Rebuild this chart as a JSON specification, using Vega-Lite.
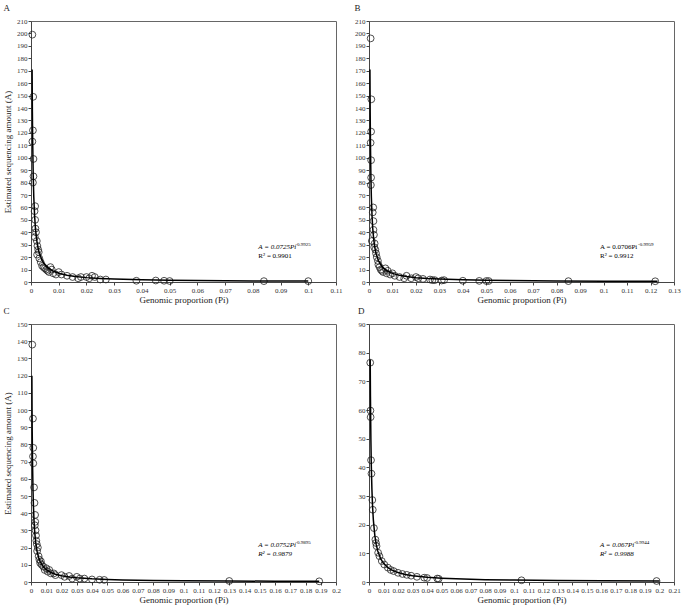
{
  "$schema": "https://vega.github.io/schema/vega-lite/v6.json",
  "background": "white",
  "padding": {"left": 3, "top": 3, "right": 6, "bottom": 6},
  "columns": 2,
  "spacing": {"row": 42, "column": 33},
  "bounds": "flush",
  "datasets": {
    "ptsA": [
      {"Pi": 0.0005, "A": 199}, {"Pi": 0.0008, "A": 149}, {"Pi": 0.0007, "A": 122}, {"Pi": 0.0005, "A": 113},
      {"Pi": 0.0009, "A": 99}, {"Pi": 0.0009, "A": 85}, {"Pi": 0.0007, "A": 80}, {"Pi": 0.0015, "A": 61},
      {"Pi": 0.0013, "A": 57}, {"Pi": 0.0015, "A": 50}, {"Pi": 0.0016, "A": 43}, {"Pi": 0.0018, "A": 40},
      {"Pi": 0.0014, "A": 36}, {"Pi": 0.0021, "A": 33}, {"Pi": 0.0023, "A": 29}, {"Pi": 0.0026, "A": 26},
      {"Pi": 0.0028, "A": 24}, {"Pi": 0.0022, "A": 22}, {"Pi": 0.003, "A": 19}, {"Pi": 0.0035, "A": 16},
      {"Pi": 0.004, "A": 13}, {"Pi": 0.0045, "A": 12}, {"Pi": 0.005, "A": 11}, {"Pi": 0.0055, "A": 10},
      {"Pi": 0.006, "A": 9}, {"Pi": 0.0065, "A": 8}, {"Pi": 0.007, "A": 12}, {"Pi": 0.0075, "A": 10},
      {"Pi": 0.008, "A": 7}, {"Pi": 0.009, "A": 6}, {"Pi": 0.01, "A": 8}, {"Pi": 0.011, "A": 6},
      {"Pi": 0.013, "A": 5}, {"Pi": 0.015, "A": 4}, {"Pi": 0.017, "A": 3}, {"Pi": 0.018, "A": 4},
      {"Pi": 0.02, "A": 4}, {"Pi": 0.021, "A": 3}, {"Pi": 0.022, "A": 5}, {"Pi": 0.023, "A": 4},
      {"Pi": 0.025, "A": 2}, {"Pi": 0.027, "A": 2}, {"Pi": 0.038, "A": 1}, {"Pi": 0.045, "A": 1.2},
      {"Pi": 0.048, "A": 1}, {"Pi": 0.05, "A": 0.8}, {"Pi": 0.084, "A": 0.7}, {"Pi": 0.1, "A": 0.7}
    ],
    "fitA": [
      {"Pi": 0.0004, "A": 170.9}, {"Pi": 0.0005, "A": 137.0}, {"Pi": 0.0006, "A": 114.3}, {"Pi": 0.0008, "A": 85.9},
      {"Pi": 0.001, "A": 68.8}, {"Pi": 0.0013, "A": 53.06}, {"Pi": 0.0016, "A": 43.18}, {"Pi": 0.002, "A": 34.6},
      {"Pi": 0.0025, "A": 27.73}, {"Pi": 0.003, "A": 23.14}, {"Pi": 0.004, "A": 17.39}, {"Pi": 0.005, "A": 13.94},
      {"Pi": 0.006, "A": 11.63}, {"Pi": 0.008, "A": 8.74}, {"Pi": 0.01, "A": 7.0}, {"Pi": 0.013, "A": 5.4},
      {"Pi": 0.016, "A": 4.39}, {"Pi": 0.02, "A": 3.52}, {"Pi": 0.025, "A": 2.82}, {"Pi": 0.03, "A": 2.35},
      {"Pi": 0.04, "A": 1.77}, {"Pi": 0.05, "A": 1.42}, {"Pi": 0.06, "A": 1.18}, {"Pi": 0.08, "A": 0.89},
      {"Pi": 0.1, "A": 0.71}
    ],
    "ptsB": [
      {"Pi": 0.0007, "A": 196}, {"Pi": 0.001, "A": 147}, {"Pi": 0.0009, "A": 121}, {"Pi": 0.0007, "A": 112},
      {"Pi": 0.0009, "A": 98}, {"Pi": 0.0009, "A": 84}, {"Pi": 0.0008, "A": 78}, {"Pi": 0.0018, "A": 60},
      {"Pi": 0.0016, "A": 56}, {"Pi": 0.0019, "A": 49}, {"Pi": 0.0019, "A": 42}, {"Pi": 0.0021, "A": 38},
      {"Pi": 0.0012, "A": 33}, {"Pi": 0.0024, "A": 31}, {"Pi": 0.0022, "A": 28}, {"Pi": 0.0027, "A": 26},
      {"Pi": 0.003, "A": 23}, {"Pi": 0.0033, "A": 20}, {"Pi": 0.0038, "A": 17}, {"Pi": 0.004, "A": 14},
      {"Pi": 0.0045, "A": 12}, {"Pi": 0.005, "A": 10}, {"Pi": 0.0055, "A": 9}, {"Pi": 0.006, "A": 8},
      {"Pi": 0.007, "A": 11}, {"Pi": 0.0075, "A": 7}, {"Pi": 0.008, "A": 9}, {"Pi": 0.009, "A": 6},
      {"Pi": 0.01, "A": 7}, {"Pi": 0.011, "A": 5}, {"Pi": 0.013, "A": 4}, {"Pi": 0.015, "A": 3},
      {"Pi": 0.016, "A": 5}, {"Pi": 0.018, "A": 3}, {"Pi": 0.02, "A": 4}, {"Pi": 0.021, "A": 3},
      {"Pi": 0.023, "A": 2.5}, {"Pi": 0.026, "A": 2}, {"Pi": 0.027, "A": 1.5}, {"Pi": 0.028, "A": 1.5},
      {"Pi": 0.031, "A": 1.2}, {"Pi": 0.032, "A": 1.5}, {"Pi": 0.04, "A": 1}, {"Pi": 0.047, "A": 0.9},
      {"Pi": 0.05, "A": 0.8}, {"Pi": 0.051, "A": 0.8}, {"Pi": 0.085, "A": 0.7}, {"Pi": 0.122, "A": 0.6}
    ],
    "fitB": [
      {"Pi": 0.0004, "A": 170.9}, {"Pi": 0.0005, "A": 136.9}, {"Pi": 0.0006, "A": 114.1}, {"Pi": 0.0008, "A": 85.7},
      {"Pi": 0.001, "A": 68.6}, {"Pi": 0.0013, "A": 52.85}, {"Pi": 0.0016, "A": 42.97}, {"Pi": 0.002, "A": 34.41},
      {"Pi": 0.0025, "A": 27.55}, {"Pi": 0.003, "A": 22.98}, {"Pi": 0.004, "A": 17.25}, {"Pi": 0.005, "A": 13.82},
      {"Pi": 0.006, "A": 11.52}, {"Pi": 0.008, "A": 8.65}, {"Pi": 0.01, "A": 6.93}, {"Pi": 0.013, "A": 5.34},
      {"Pi": 0.016, "A": 4.34}, {"Pi": 0.02, "A": 3.47}, {"Pi": 0.025, "A": 2.78}, {"Pi": 0.03, "A": 2.32},
      {"Pi": 0.04, "A": 1.74}, {"Pi": 0.05, "A": 1.39}, {"Pi": 0.06, "A": 1.16}, {"Pi": 0.08, "A": 0.87},
      {"Pi": 0.1, "A": 0.7}, {"Pi": 0.123, "A": 0.57}
    ],
    "ptsC": [
      {"Pi": 0.00085, "A": 138}, {"Pi": 0.0013, "A": 95}, {"Pi": 0.0015, "A": 78}, {"Pi": 0.0013, "A": 73},
      {"Pi": 0.0015, "A": 69}, {"Pi": 0.002, "A": 55}, {"Pi": 0.0023, "A": 46}, {"Pi": 0.0027, "A": 39},
      {"Pi": 0.0028, "A": 35}, {"Pi": 0.0025, "A": 33}, {"Pi": 0.003, "A": 30}, {"Pi": 0.0033, "A": 27},
      {"Pi": 0.0035, "A": 24}, {"Pi": 0.0038, "A": 22}, {"Pi": 0.004, "A": 18}, {"Pi": 0.0045, "A": 20},
      {"Pi": 0.005, "A": 15}, {"Pi": 0.0055, "A": 13}, {"Pi": 0.006, "A": 11}, {"Pi": 0.0065, "A": 12},
      {"Pi": 0.007, "A": 10}, {"Pi": 0.008, "A": 9}, {"Pi": 0.009, "A": 7}, {"Pi": 0.01, "A": 8},
      {"Pi": 0.011, "A": 6}, {"Pi": 0.012, "A": 7}, {"Pi": 0.013, "A": 5}, {"Pi": 0.015, "A": 5},
      {"Pi": 0.016, "A": 4}, {"Pi": 0.02, "A": 4}, {"Pi": 0.022, "A": 3}, {"Pi": 0.025, "A": 3.5},
      {"Pi": 0.027, "A": 2}, {"Pi": 0.03, "A": 3}, {"Pi": 0.032, "A": 2}, {"Pi": 0.035, "A": 2},
      {"Pi": 0.04, "A": 1.5}, {"Pi": 0.045, "A": 1.3}, {"Pi": 0.048, "A": 1.2}, {"Pi": 0.13, "A": 0.6},
      {"Pi": 0.189, "A": 0.4}
    ],
    "fitC": [
      {"Pi": 0.00058, "A": 119.9}, {"Pi": 0.0007, "A": 99.5}, {"Pi": 0.0008, "A": 87.2}, {"Pi": 0.001, "A": 69.9},
      {"Pi": 0.0013, "A": 53.9}, {"Pi": 0.0016, "A": 43.9}, {"Pi": 0.002, "A": 35.2}, {"Pi": 0.0025, "A": 28.25},
      {"Pi": 0.003, "A": 23.58}, {"Pi": 0.004, "A": 17.74}, {"Pi": 0.005, "A": 14.23}, {"Pi": 0.006, "A": 11.88},
      {"Pi": 0.008, "A": 8.94}, {"Pi": 0.01, "A": 7.17}, {"Pi": 0.013, "A": 5.53}, {"Pi": 0.016, "A": 4.5},
      {"Pi": 0.02, "A": 3.61}, {"Pi": 0.025, "A": 2.89}, {"Pi": 0.03, "A": 2.42}, {"Pi": 0.04, "A": 1.82},
      {"Pi": 0.05, "A": 1.46}, {"Pi": 0.06, "A": 1.22}, {"Pi": 0.08, "A": 0.915}, {"Pi": 0.1, "A": 0.734},
      {"Pi": 0.13, "A": 0.566}, {"Pi": 0.16, "A": 0.461}, {"Pi": 0.189, "A": 0.391}
    ],
    "ptsD": [
      {"Pi": 0.00084, "A": 76.5}, {"Pi": 0.001, "A": 59.8}, {"Pi": 0.00112, "A": 57.5}, {"Pi": 0.0014, "A": 42.5},
      {"Pi": 0.0017, "A": 37.8}, {"Pi": 0.0023, "A": 28.6}, {"Pi": 0.0026, "A": 25.2}, {"Pi": 0.0034, "A": 18.8},
      {"Pi": 0.0044, "A": 14.8}, {"Pi": 0.0048, "A": 13.6}, {"Pi": 0.0052, "A": 12.5}, {"Pi": 0.0063, "A": 10.2},
      {"Pi": 0.0072, "A": 9}, {"Pi": 0.0088, "A": 7.3}, {"Pi": 0.0105, "A": 6.1}, {"Pi": 0.013, "A": 5},
      {"Pi": 0.015, "A": 4.2}, {"Pi": 0.017, "A": 3.8}, {"Pi": 0.02, "A": 3.2}, {"Pi": 0.023, "A": 2.8},
      {"Pi": 0.026, "A": 2.5}, {"Pi": 0.029, "A": 2.2}, {"Pi": 0.033, "A": 1.8}, {"Pi": 0.038, "A": 1.5},
      {"Pi": 0.04, "A": 1.4}, {"Pi": 0.047, "A": 1.2}, {"Pi": 0.048, "A": 1.1}, {"Pi": 0.105, "A": 0.6},
      {"Pi": 0.198, "A": 0.35}
    ],
    "fitD": [
      {"Pi": 0.00083, "A": 77.6}, {"Pi": 0.001, "A": 64.5}, {"Pi": 0.0013, "A": 49.66}, {"Pi": 0.0016, "A": 40.39},
      {"Pi": 0.002, "A": 32.35}, {"Pi": 0.0025, "A": 25.92}, {"Pi": 0.003, "A": 21.62}, {"Pi": 0.004, "A": 16.24},
      {"Pi": 0.005, "A": 13.01}, {"Pi": 0.006, "A": 10.85}, {"Pi": 0.008, "A": 8.15}, {"Pi": 0.01, "A": 6.53},
      {"Pi": 0.013, "A": 5.03}, {"Pi": 0.016, "A": 4.09}, {"Pi": 0.02, "A": 3.28}, {"Pi": 0.025, "A": 2.63},
      {"Pi": 0.03, "A": 2.19}, {"Pi": 0.04, "A": 1.645}, {"Pi": 0.05, "A": 1.318}, {"Pi": 0.06, "A": 1.1},
      {"Pi": 0.08, "A": 0.826}, {"Pi": 0.1, "A": 0.661}, {"Pi": 0.13, "A": 0.51}, {"Pi": 0.16, "A": 0.414},
      {"Pi": 0.2, "A": 0.332}
    ]
  },
  "concat": [
    {
      "width": 305, "height": 261,
      "title": {"text": "A"},
      "encoding": {
        "x": {"type": "quantitative", "scale": {"domain": [0, 0.11], "nice": false}, "axis": {"tickCount": 11, "title": "Genomic proportion (Pi)"}},
        "y": {"type": "quantitative", "scale": {"domain": [0, 210], "nice": false}, "axis": {"tickCount": 21, "title": "Estimated sequencing amount (A)"}}
      },
      "layer": [
        {"data": {"name": "ptsA"}, "mark": {"type": "point", "shape": "circle", "size": 46, "filled": false, "stroke": "#222", "strokeWidth": 0.8, "opacity": 1}, "encoding": {"x": {"field": "Pi"}, "y": {"field": "A"}}},
        {"data": {"name": "fitA"}, "mark": {"type": "line", "color": "#000", "strokeWidth": 1.5}, "encoding": {"x": {"field": "Pi"}, "y": {"field": "A"}}},
        {"data": {"values": [{"t": "A = 0.0725Pi"}]}, "mark": {"type": "text", "align": "left", "baseline": "middle", "fontSize": 7, "font": "Liberation Serif", "fontStyle": "italic"}, "encoding": {"x": {"datum": 0.082}, "y": {"datum": 28}, "text": {"field": "t"}}},
        {"data": {"values": [{"t": "-0.9925"}]}, "mark": {"type": "text", "align": "left", "baseline": "middle", "fontSize": 5, "font": "Liberation Serif", "dx": 37, "dy": -3}, "encoding": {"x": {"datum": 0.082}, "y": {"datum": 28}, "text": {"field": "t"}}},
        {"data": {"values": [{"t": "R² = 0.9901"}]}, "mark": {"type": "text", "align": "left", "baseline": "middle", "fontSize": 7, "font": "Liberation Serif"}, "encoding": {"x": {"datum": 0.082}, "y": {"datum": 21}, "text": {"field": "t"}}}
      ]
    },
    {
      "width": 305, "height": 261,
      "title": {"text": "B"},
      "encoding": {
        "x": {"type": "quantitative", "scale": {"domain": [0, 0.13], "nice": false}, "axis": {"tickCount": 13, "title": "Genomic proportion (Pi)"}},
        "y": {"type": "quantitative", "scale": {"domain": [0, 210], "nice": false}, "axis": {"tickCount": 21, "title": null}}
      },
      "layer": [
        {"data": {"name": "ptsB"}, "mark": {"type": "point", "shape": "circle", "size": 46, "filled": false, "stroke": "#222", "strokeWidth": 0.8, "opacity": 1}, "encoding": {"x": {"field": "Pi"}, "y": {"field": "A"}}},
        {"data": {"name": "fitB"}, "mark": {"type": "line", "color": "#000", "strokeWidth": 1.5}, "encoding": {"x": {"field": "Pi"}, "y": {"field": "A"}}},
        {"data": {"values": [{"t": "A = 0.0706Pi"}]}, "mark": {"type": "text", "align": "left", "baseline": "middle", "fontSize": 7, "font": "Liberation Serif"}, "encoding": {"x": {"datum": 0.0985}, "y": {"datum": 28}, "text": {"field": "t"}}},
        {"data": {"values": [{"t": "-0.9959"}]}, "mark": {"type": "text", "align": "left", "baseline": "middle", "fontSize": 5, "font": "Liberation Serif", "dx": 38, "dy": -3}, "encoding": {"x": {"datum": 0.0985}, "y": {"datum": 28}, "text": {"field": "t"}}},
        {"data": {"values": [{"t": "R² = 0.9912"}]}, "mark": {"type": "text", "align": "left", "baseline": "middle", "fontSize": 7, "font": "Liberation Serif"}, "encoding": {"x": {"datum": 0.0985}, "y": {"datum": 21}, "text": {"field": "t"}}}
      ]
    },
    {
      "width": 305, "height": 258,
      "title": {"text": "C"},
      "encoding": {
        "x": {"type": "quantitative", "scale": {"domain": [0, 0.2], "nice": false}, "axis": {"tickCount": 20, "title": "Genomic proportion (Pi)"}},
        "y": {"type": "quantitative", "scale": {"domain": [0, 150], "nice": false}, "axis": {"tickCount": 15, "title": "Estimated sequencing amount (A)"}}
      },
      "layer": [
        {"data": {"name": "ptsC"}, "mark": {"type": "point", "shape": "circle", "size": 46, "filled": false, "stroke": "#222", "strokeWidth": 0.8, "opacity": 1}, "encoding": {"x": {"field": "Pi"}, "y": {"field": "A"}}},
        {"data": {"name": "fitC"}, "mark": {"type": "line", "color": "#000", "strokeWidth": 1.5}, "encoding": {"x": {"field": "Pi"}, "y": {"field": "A"}}},
        {"data": {"values": [{"t": "A = 0.0752Pi"}]}, "mark": {"type": "text", "align": "left", "baseline": "middle", "fontSize": 7, "font": "Liberation Serif", "fontStyle": "italic"}, "encoding": {"x": {"datum": 0.149}, "y": {"datum": 21.5}, "text": {"field": "t"}}},
        {"data": {"values": [{"t": "-0.9895"}]}, "mark": {"type": "text", "align": "left", "baseline": "middle", "fontSize": 5, "font": "Liberation Serif", "dx": 37, "dy": -3}, "encoding": {"x": {"datum": 0.149}, "y": {"datum": 21.5}, "text": {"field": "t"}}},
        {"data": {"values": [{"t": "R² = 0.9879"}]}, "mark": {"type": "text", "align": "left", "baseline": "middle", "fontSize": 7, "font": "Liberation Serif", "fontStyle": "italic"}, "encoding": {"x": {"datum": 0.149}, "y": {"datum": 16.3}, "text": {"field": "t"}}}
      ]
    },
    {
      "width": 305, "height": 258,
      "title": {"text": "D"},
      "encoding": {
        "x": {"type": "quantitative", "scale": {"domain": [0, 0.21], "nice": false}, "axis": {"tickCount": 21, "title": "Genomic proportion (Pi)"}},
        "y": {"type": "quantitative", "scale": {"domain": [0, 90], "nice": false}, "axis": {"tickCount": 9, "title": null}}
      },
      "layer": [
        {"data": {"name": "ptsD"}, "mark": {"type": "point", "shape": "circle", "size": 46, "filled": false, "stroke": "#222", "strokeWidth": 0.8, "opacity": 1}, "encoding": {"x": {"field": "Pi"}, "y": {"field": "A"}}},
        {"data": {"name": "fitD"}, "mark": {"type": "line", "color": "#000", "strokeWidth": 1.5}, "encoding": {"x": {"field": "Pi"}, "y": {"field": "A"}}},
        {"data": {"values": [{"t": "A = 0.067Pi"}]}, "mark": {"type": "text", "align": "left", "baseline": "middle", "fontSize": 7, "font": "Liberation Serif", "fontStyle": "italic"}, "encoding": {"x": {"datum": 0.159}, "y": {"datum": 12.9}, "text": {"field": "t"}}},
        {"data": {"values": [{"t": "-0.9944"}]}, "mark": {"type": "text", "align": "left", "baseline": "middle", "fontSize": 5, "font": "Liberation Serif", "dx": 34, "dy": -3}, "encoding": {"x": {"datum": 0.159}, "y": {"datum": 12.9}, "text": {"field": "t"}}},
        {"data": {"values": [{"t": "R² = 0.9988"}]}, "mark": {"type": "text", "align": "left", "baseline": "middle", "fontSize": 7, "font": "Liberation Serif", "fontStyle": "italic"}, "encoding": {"x": {"datum": 0.159}, "y": {"datum": 9.8}, "text": {"field": "t"}}}
      ]
    }
  ],
  "config": {
    "font": "Liberation Serif",
    "view": {"stroke": "#666", "strokeWidth": 1},
    "title": {"font": "Liberation Serif", "fontSize": 9, "fontWeight": "normal", "anchor": "start", "frame": "bounds", "offset": 4, "color": "#222"},
    "axis": {
      "grid": false,
      "labelFont": "Liberation Serif", "labelFontSize": 7, "labelColor": "#333", "labelPadding": 1,
      "labelOverlap": false, "labelFlush": false, "format": ".2~f",
      "titleFont": "Liberation Serif", "titleFontSize": 9, "titleFontWeight": "normal", "titleColor": "#222",
      "domainColor": "#444", "tickColor": "#444", "tickSize": 3
    },
    "axisX": {"titlePadding": 2},
    "axisY": {"titlePadding": 4}
  }
}
